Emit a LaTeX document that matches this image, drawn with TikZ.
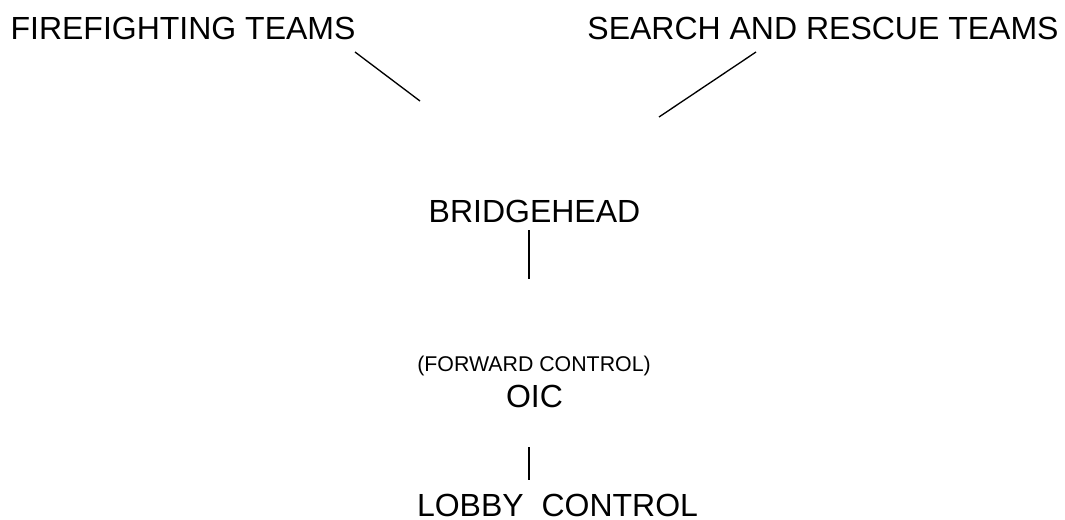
\documentclass[tikz,border=0pt]{standalone}
\usepackage{fontspec}
\setmainfont{Liberation Sans}
\usepackage{xcolor}

\tikzset{
  lbl/.style={anchor=base, inner sep=0pt, font=\fontsize{24}{28}\selectfont},
  sublbl/.style={anchor=base, inner sep=0pt, font=\fontsize{16}{19}\selectfont},
  link/.style={draw=black, line width=1pt}
}

\begin{document}
\begin{tikzpicture}[x=0.75pt,y=0.75pt,yscale=-1,xscale=1]
\useasboundingbox (0,0) rectangle (1065,519);

% Text Node
\node [lbl] (fire) at (183,39) {FIREFIGHTING TEAMS};
% Text Node
\node [lbl] (sar) at (823,39) {SEARCH AND RESCUE TEAMS};
% Text Node
\node [lbl] (bridge) at (534.5,222) {BRIDGEHEAD};
% Text Node
\node [sublbl] (fwd) at (534,371) {(FORWARD CONTROL)};
% Text Node
\node [lbl] (oic) at (534.5,407) {OIC};
% Text Node
\node [lbl] (lobby) at (557.5,516) {LOBBY\ \ CONTROL};

% line ends
\coordinate (fireA) at (355,52);
\coordinate (fireB) at (420,101);
\coordinate (sarA) at (756,52);
\coordinate (sarB) at (659,117);
\coordinate (bridgeA) at (529,230);
\coordinate (bridgeB) at (529,279);
\coordinate (oicA) at (529,447);
\coordinate (oicB) at (529,480);

%Straight Lines
\draw [link] (fireA) -- (fireB);
%Straight Lines
\draw [link] (sarA) -- (sarB);
%Straight Lines
\draw [link] (bridgeA) -- (bridgeB);
%Straight Lines
\draw [link] (oicA) -- (oicB);

\end{tikzpicture}
\end{document}
